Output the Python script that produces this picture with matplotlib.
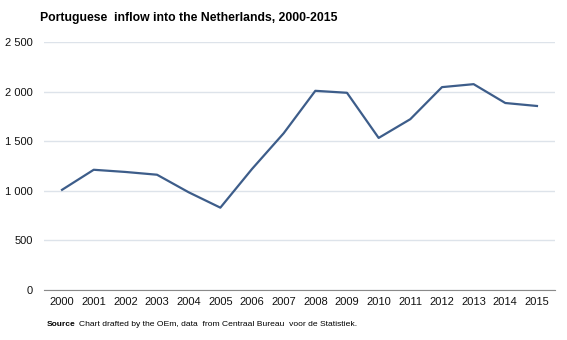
import matplotlib.pyplot as plt
from matplotlib.ticker import FuncFormatter

plt.rcParams['font.family'] = ['Liberation Sans', 'DejaVu Sans']

# data
years = list(range(2000, 2016))
inflow = [1010, 1212, 1190, 1162, 985, 830, 1220, 1580, 2008, 1988, 1533, 1722, 2045, 2075, 1885, 1855]
yticks = [0, 500, 1000, 1500, 2000, 2500]

fig = plt.figure(figsize=(5.67, 3.4), dpi=100)
ax = fig.add_axes([44 / 567, 50 / 340, 511 / 567, 248 / 340])

ax.plot(years, inflow, color="#3d5d8a", linewidth=1.6, solid_joinstyle="round")

ax.set_xlim(1999.43, 2015.57)
ax.set_ylim(0, 2500)
ax.set_xticks(years)
ax.set_yticks(yticks)
ax.yaxis.set_major_formatter(FuncFormatter(lambda v, p: f"{int(v):,}".replace(",", " ")))

ax.grid(axis="y", color="#dde3ea", linewidth=1)
ax.set_axisbelow(True)
for s in ["top", "right", "left"]:
    ax.spines[s].set_visible(False)
ax.spines["bottom"].set_color("#8a8a8a")
ax.tick_params(axis="both", length=0, labelsize=8, colors="#111111")
ax.tick_params(axis="y", pad=8)
ax.tick_params(axis="x", pad=5)

fig.text(40 / 567, 1 - 18 / 340, "Portuguese  inflow into the Netherlands, 2000-2015",
         fontsize=8.8, fontweight="bold", va="center")
fig.text(47 / 567, 1 - 325 / 340, "Source", fontsize=6, fontweight="bold", va="center")
fig.text(79 / 567, 1 - 325 / 340, "Chart drafted by the OEm, data  from Centraal Bureau  voor de Statistiek.",
         fontsize=6.1, va="center")

fig.savefig("out.png", dpi=100)
